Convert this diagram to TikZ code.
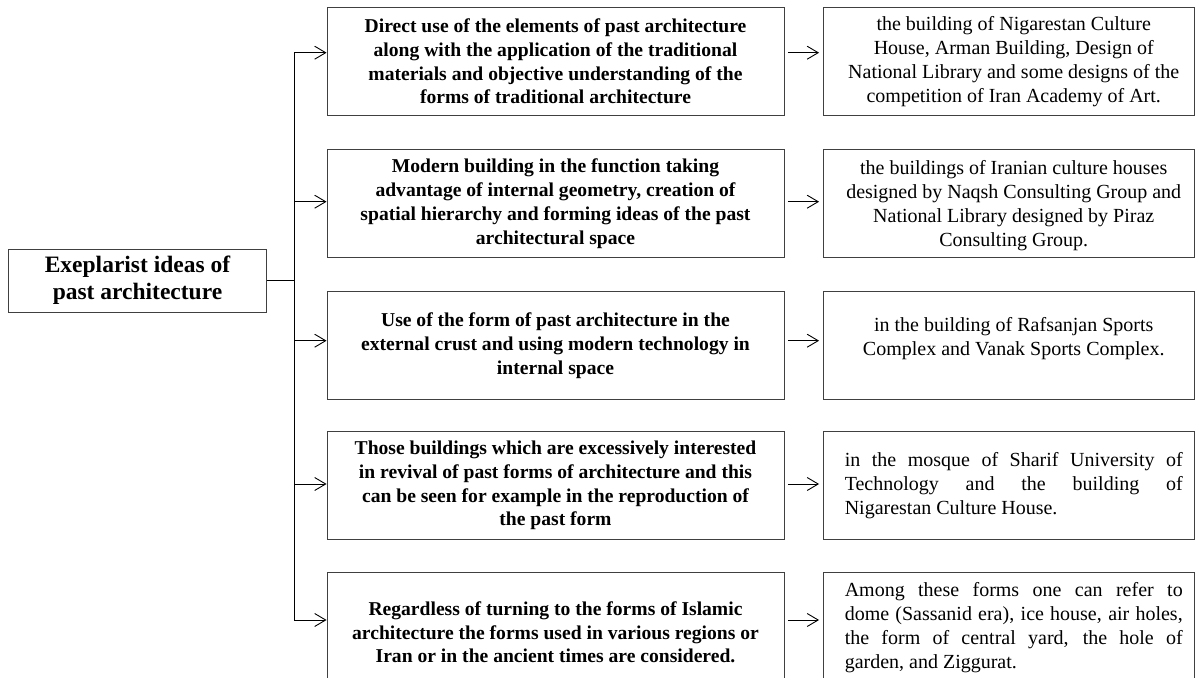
\documentclass[tikz,border=0pt]{standalone}
\usepackage{fontspec}
\setmainfont{Liberation Serif}
\usetikzlibrary{arrows.meta}
% text block of a result box: slightly right of the box centre, optional lift
\newcommand\rcell[2][0bp]{\hspace*{10bp}\raisebox{#1}[\height][\depth]{\parbox{338bp}{\fontsize{20bp}{24bp}\selectfont #2}}}
% one fully justified line
\newcommand\jline[1]{\makebox[\linewidth][s]{#1}}

\begin{document}
\begin{tikzpicture}[x=1bp,y=-1bp,
  box/.style={draw=black!75, line width=0.9bp, rectangle, inner sep=0pt},
  root/.style={box, minimum width=258.5bp, minimum height=63bp, align=center,
    font=\fontsize{23.5bp}{27bp}\selectfont\bfseries},
  mid/.style={box, minimum width=457bp, minimum height=108.4bp, align=center,
    font=\fontsize{19.6bp}{23.8bp}\selectfont\bfseries},
  res/.style={box, minimum width=371.5bp, minimum height=108.4bp},
  link/.style={line width=0.9bp, -{Straight Barb[length=11bp,width=13bp,line width=0.9bp]}},
  wire/.style={line width=0.9bp},
  ]
\useasboundingbox (0,0) rectangle (1195,678);

% left root box
\node[root] (root) at (137.5,280.5) {Exeplarist ideas of\\past architecture};

% middle column: the five kinds of ideas
\node[mid] (m1) at (555.5,61.5) {Direct use of the elements of past architecture\\along with the application of the traditional\\materials and objective understanding of the\\forms of traditional architecture};
\node[mid] (m2) at (555.5,203.5) {Modern building in the function taking\\advantage of internal geometry, creation of\\spatial hierarchy and forming ideas of the past\\architectural space};
\node[mid] (m3) at (555.5,345.6) {Use of the form of past architecture in the\\external crust and using modern technology in\\internal space};
\node[mid] (m4) at (555.5,485.5) {Those buildings which are excessively interested\\in revival of past forms of architecture and this\\can be seen for example in the reproduction of\\the past form};
\node[mid, minimum height=120bp] (m5) at (555.5,632.3) {Regardless of turning to the forms of Islamic\\architecture the forms used in various regions or\\Iran or in the ancient times are considered.};

% right column: examples
\node[res] (r1) at (1008.75,61.5) {\rcell{\centering the building of Nigarestan Culture\\House, Arman Building, Design of\\National Library and some designs of the\\competition of Iran Academy of Art.}};
\node[res] (r2) at (1008.75,203.5) {\rcell[-2bp]{\centering the buildings of Iranian culture houses\\designed by Naqsh Consulting Group and\\National Library designed by Piraz\\Consulting Group.}};
\node[res] (r3) at (1008.75,345.6) {\rcell[7bp]{\centering in the building of Rafsanjan Sports\\Complex and Vanak Sports Complex.}};
\node[res] (r4) at (1008.75,485.5) {\rcell{\jline{in the mosque of Sharif University of}\\\jline{Technology and the building of}\\Nigarestan Culture House.}};
\node[res, minimum height=120bp] (r5) at (1008.75,632.3) {\rcell[5bp]{\jline{Among these forms one can refer to}\\\jline{dome (Sassanid era), ice house, air holes,}\\\jline{the form of central yard, the hole of}\\garden, and Ziggurat.}};

% branching trunk
\coordinate (t1) at (294,52.7);
\coordinate (t2) at (294,201.7);
\coordinate (t3) at (294,340.7);
\coordinate (t4) at (294,484);
\coordinate (t5) at (294,620);
\draw[wire] (root.east) -- (root.east -| t1);
\draw[wire] (t1) -- (t5);

\foreach \i in {1,...,5}{
  \draw[link] (t\i) -- (t\i -| m\i.west);
  \draw[link, shorten <=3.5bp, shorten >=3.5bp] (t\i -| m\i.east) -- (t\i -| r\i.west);
}
\end{tikzpicture}
\end{document}
